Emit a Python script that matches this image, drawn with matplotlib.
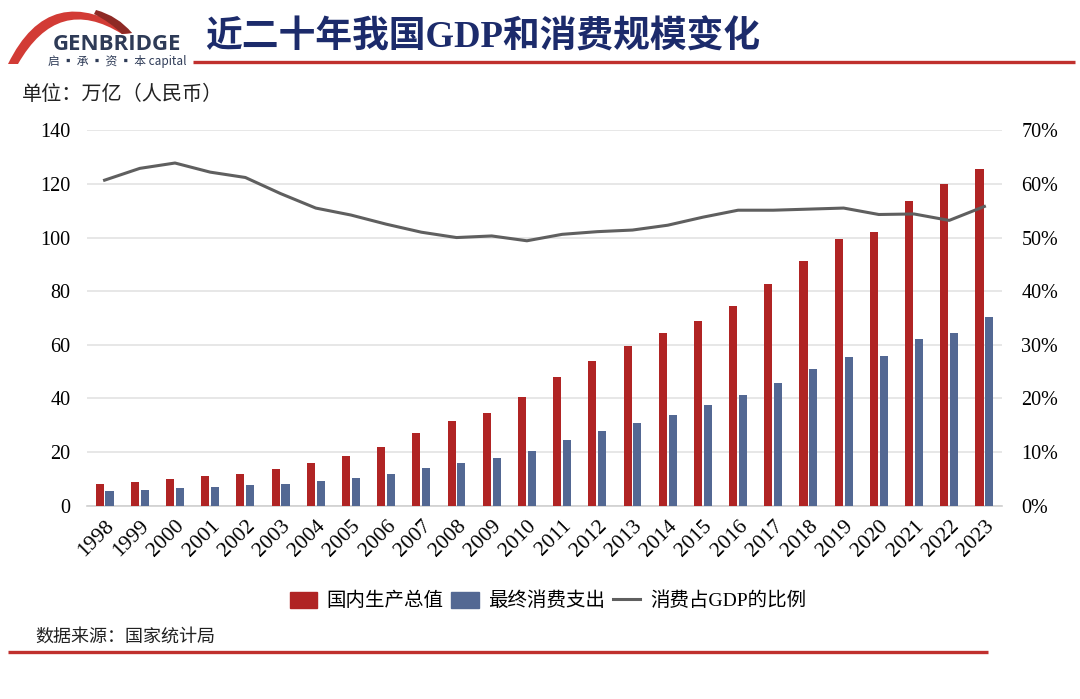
import matplotlib
matplotlib.use("Agg")
import matplotlib.pyplot as plt
import numpy as np
from matplotlib.patches import PathPatch, Rectangle
from matplotlib.path import Path
from matplotlib.lines import Line2D

years = [str(y) for y in range(1998, 2024)]
gdp = [8.2, 8.96, 9.95, 10.9, 11.9, 13.7, 16.0, 18.5, 21.9, 27.1, 31.7, 34.6, 40.7,
       48.1, 53.8, 59.5, 64.5, 69.0, 74.3, 82.7, 91.3, 99.3, 102.2, 113.8, 120.1, 125.7]
consumption = [5.37, 5.97, 6.6, 6.97, 7.6, 8.2, 9.3, 10.45, 11.8, 13.9, 16.0, 17.7, 20.3,
               24.6, 27.7, 30.8, 33.9, 37.4, 41.3, 45.8, 50.9, 55.4, 55.9, 62.3, 64.4, 70.4]
ratio = [60.7, 62.9, 63.9, 62.2, 61.2, 58.2, 55.5, 54.2, 52.5, 51.0, 50.0, 50.3, 49.4,
         50.6, 51.1, 51.4, 52.3, 53.8, 55.1, 55.1, 55.3, 55.5, 54.3, 54.4, 53.2, 55.8]

RED = "#b02424"
BLUE = "#536893"
GREY = "#5f5f5f"
NAVY = "#1c2b6b"
SERIF = ["Liberation Serif", "Noto Sans CJK SC"]
CJK = ["Noto Sans CJK SC", "DejaVu Sans"]

W, H = 1080, 699
fig = plt.figure(figsize=(W / 100, H / 100), dpi=100)

def fx(x):
    return x / W

def fy(y):
    return 1 - y / H

ax = fig.add_axes([fx(87), fy(505.7), fx(1002) - fx(87), fy(130.3) - fy(505.7)])
x = np.arange(len(years))
bw = 0.23
ax.bar(x - 0.14, gdp, width=bw, color=RED, zorder=3, label="国内生产总值")
ax.bar(x + 0.14, consumption, width=bw, color=BLUE, zorder=3, label="最终消费支出")
ax.set_xlim(-0.5, len(years) - 0.5)
ax.set_ylim(0, 140)
ax.set_yticks(range(0, 141, 20))
ax.set_yticklabels([str(v) for v in range(0, 141, 20)], fontfamily="Liberation Serif", fontsize=14.5)
ax.set_xticks(x)
ax.set_xticklabels(years, rotation=45, ha="right", rotation_mode="anchor",
                   fontfamily="Liberation Serif", fontsize=15.5)
ax.tick_params(axis="both", length=0)
ax.tick_params(axis="y", pad=12)
ax.tick_params(axis="x", pad=8)
ax.grid(axis="y", color="#e3e3e3", linewidth=1.2, zorder=0)
for s in ["top", "right", "left"]:
    ax.spines[s].set_visible(False)
ax.spines["bottom"].set_color("#d0d0d0")
ax.spines["bottom"].set_linewidth(1.2)

ax2 = ax.twinx()
ax2.plot(x, ratio, color=GREY, linewidth=2.2, zorder=4, label="消费占GDP的比例")
ax2.set_ylim(0, 70)
ax2.set_yticks(range(0, 71, 10))
ax2.set_yticklabels([f"{v}%" for v in range(0, 71, 10)], fontfamily="Liberation Serif", fontsize=14.5)
ax2.tick_params(axis="y", length=0, pad=14)
for s in ["top", "right", "left", "bottom"]:
    ax2.spines[s].set_visible(False)

handles = [Rectangle((0, 0), 1, 1, color=RED), Rectangle((0, 0), 1, 1, color=BLUE),
           Line2D([0], [0], color=GREY, linewidth=2.2)]
labels = ["国内生产总值", "最终消费支出", "消费占GDP的比例"]
fig.legend(handles, labels, loc="center", bbox_to_anchor=(fx(548), fy(601)), ncol=3,
           frameon=False, prop={"family": SERIF, "size": 14},
           handlelength=1.4, handleheight=0.9, handletextpad=0.5, columnspacing=0.4)

# overlay for decorations
ov = fig.add_axes([0, 0, 1, 1], zorder=-1)
ov.set_xlim(0, W)
ov.set_ylim(H, 0)
ov.axis("off")

# logo arc
verts = [(8, 64), (50, -22), (132, 33), (122, 34), (58, -6), (18, 64), (8, 64)]
codes = [Path.MOVETO, Path.CURVE3, Path.CURVE3, Path.LINETO, Path.CURVE3, Path.CURVE3, Path.CLOSEPOLY]
ov.add_patch(PathPatch(Path(verts, codes), facecolor="#d23b35", edgecolor="none"))
verts2 = [(96, 10), (118, 16), (132, 33), (122, 34), (110, 22), (94, 14), (96, 10)]
codes2 = [Path.MOVETO, Path.CURVE3, Path.CURVE3, Path.LINETO, Path.CURVE3, Path.CURVE3, Path.CLOSEPOLY]
ov.add_patch(PathPatch(Path(verts2, codes2), facecolor="#8e2a25", edgecolor="none"))
fig.text(fx(117), fy(45), "GENBRIDGE", ha="center", va="center", fontsize=16,
         fontweight="bold", color="#2e3b57", fontfamily="Open Sans")
fig.text(fx(117), fy(62), "启 ▪ 承 ▪ 资 ▪ 本 capital", ha="center", va="center", fontsize=8.5,
         color="#2e3b57", fontfamily=CJK)

# title
fig.text(fx(205), fy(38), "近二十年我国GDP和消费规模变化", ha="left", va="center",
         fontsize=26.5, fontweight="bold", color=NAVY, fontfamily=SERIF)
ov.plot([193, 1075], [61.5, 61.5], color="#c0302e", linewidth=2.4, solid_capstyle="butt")

fig.text(fx(22), fy(95), "单位：万亿（人民币）", ha="left", va="center", fontsize=14.5,
         color="#222222", fontfamily=CJK)
fig.text(fx(35), fy(637), "数据来源：国家统计局", ha="left", va="center", fontsize=13,
         color="#222222", fontfamily=CJK)
ov.plot([8, 988], [652, 652], color="#c0302e", linewidth=2.4, solid_capstyle="butt")

fig.savefig("out.png", dpi=100)
